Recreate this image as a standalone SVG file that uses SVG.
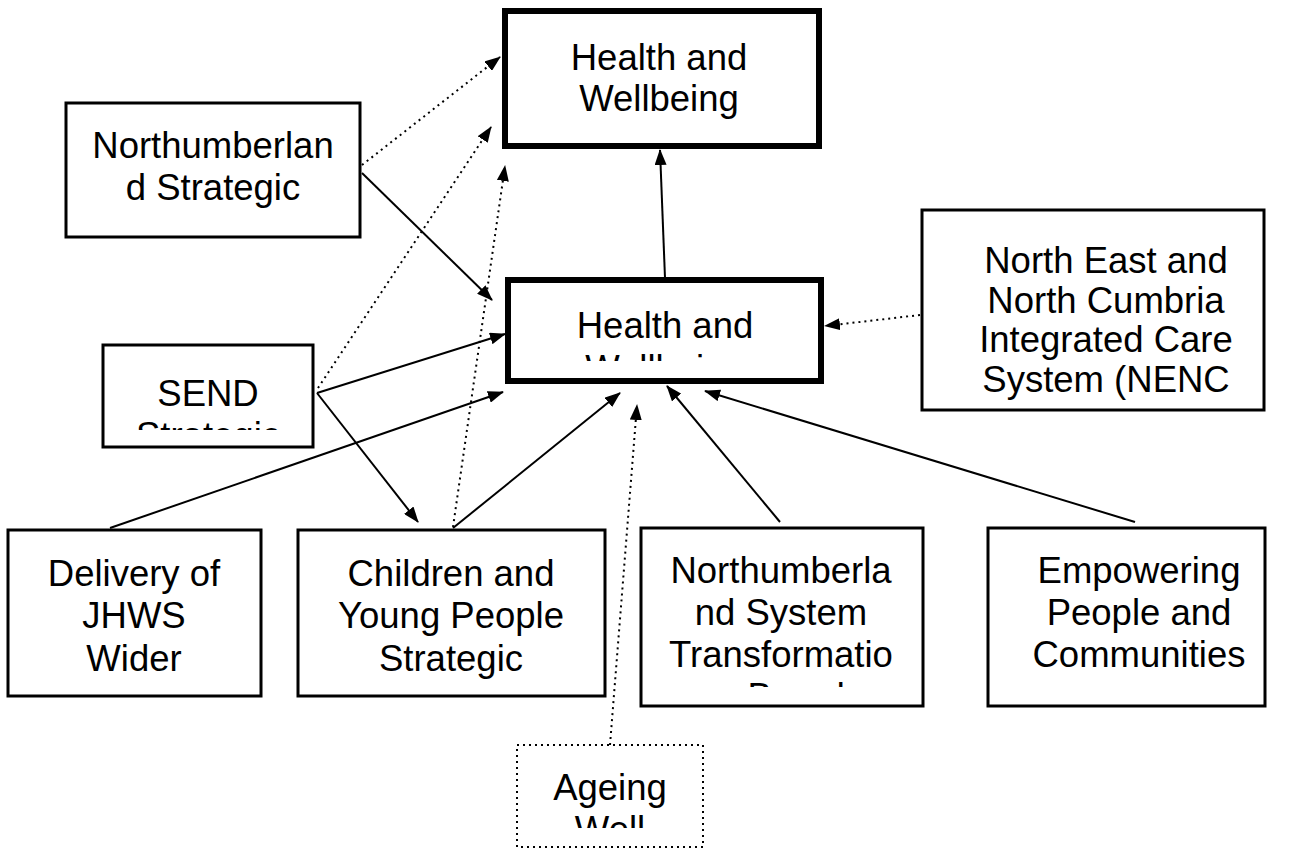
<svg xmlns="http://www.w3.org/2000/svg" width="1296" height="849" viewBox="0 0 1296 849">
<style>
.box{fill:#fff;stroke:#000;stroke-width:3}
.thick{fill:#fff;stroke:#000;stroke-width:6}
.dotbox{fill:#fff;stroke:#000;stroke-width:2;stroke-dasharray:2 4}
.t{font-family:"Liberation Sans",Arial,sans-serif;font-size:36.5px;fill:#000;text-anchor:middle}
.ln{stroke:#000;stroke-width:2;fill:none;marker-end:url(#ah)}
.dl{stroke:#000;stroke-width:2;fill:none;stroke-dasharray:2 4;marker-end:url(#ah)}
</style>
<defs>
<marker id="ah" markerUnits="userSpaceOnUse" markerWidth="16" markerHeight="12" refX="15" refY="6" orient="auto">
<path d="M0,0 L16,6 L0,12 z" fill="#000"/>
</marker>
<clipPath id="c-nsp"><rect x="66" y="103" width="294" height="119"/></clipPath>
<clipPath id="c-hwb"><rect x="508" y="280" width="313" height="81"/></clipPath>
<clipPath id="c-send"><rect x="103" y="345" width="210" height="85"/></clipPath>
<clipPath id="c-nst"><rect x="641" y="528" width="282" height="159"/></clipPath>
<clipPath id="c-age"><rect x="517" y="745" width="186" height="83"/></clipPath>
</defs>
<rect width="1296" height="849" fill="#fff"/>

<g id="connectors">
<line class="ln" x1="665" y1="278" x2="660" y2="150"/>
<line class="ln" x1="362" y1="173" x2="492" y2="300"/>
<line class="ln" x1="317" y1="393" x2="505" y2="334"/>
<line class="ln" x1="317" y1="393" x2="418" y2="522"/>
<line class="ln" x1="110" y1="528" x2="503" y2="392"/>
<line class="ln" x1="453" y1="528" x2="620" y2="393"/>
<line class="ln" x1="780" y1="522" x2="667" y2="386"/>
<line class="ln" x1="1135" y1="522" x2="705" y2="391"/>
<line class="dl" x1="362" y1="165" x2="500" y2="57"/>
<line class="dl" x1="318" y1="388" x2="491" y2="127"/>
<line class="dl" x1="453" y1="527" x2="505" y2="166"/>
<line class="dl" x1="610" y1="745" x2="637" y2="405"/>
<line class="dl" x1="920" y1="315" x2="825" y2="326"/>
</g>

<g id="hwb-top">
<rect class="thick" x="505" y="11" width="314" height="135"/>
<text class="t" x="659" y="70">Health and</text>
<text class="t" x="659" y="111">Wellbeing</text>
</g>

<g id="nsp">
<rect class="box" x="66" y="103" width="294" height="134"/>
<g clip-path="url(#c-nsp)">
<text class="t" x="213" y="158">Northumberlan</text>
<text class="t" x="213" y="200">d Strategic</text>
</g>
</g>

<g id="hwb-mid">
<rect class="thick" x="508" y="280" width="313" height="101"/>
<g clip-path="url(#c-hwb)">
<text class="t" x="665" y="338">Health and</text>
<text class="t" x="665" y="381">Wellbeing</text>
</g>
</g>

<g id="nenc">
<rect class="box" x="922" y="210" width="342" height="200"/>
<text class="t" x="1106" y="273">North East and</text>
<text class="t" x="1106" y="313">North Cumbria</text>
<text class="t" x="1106" y="352">Integrated Care</text>
<text class="t" x="1106" y="392">System (NENC</text>
</g>

<g id="send">
<rect class="box" x="103" y="345" width="210" height="102"/>
<g clip-path="url(#c-send)">
<text class="t" x="208" y="406">SEND</text>
<text class="t" x="208" y="448">Strategic</text>
</g>
</g>

<g id="delivery">
<rect class="box" x="8" y="530" width="253" height="166"/>
<text class="t" x="134" y="586">Delivery of</text>
<text class="t" x="134" y="628">JHWS</text>
<text class="t" x="134" y="671">Wider</text>
</g>

<g id="cyp">
<rect class="box" x="298" y="530" width="307" height="166"/>
<text class="t" x="451" y="586">Children and</text>
<text class="t" x="451" y="628">Young People</text>
<text class="t" x="451" y="671">Strategic</text>
</g>

<g id="nst">
<rect class="box" x="641" y="528" width="282" height="178"/>
<g clip-path="url(#c-nst)">
<text class="t" x="781" y="583">Northumberla</text>
<text class="t" x="781" y="625">nd System</text>
<text class="t" x="781" y="667">Transformatio</text>
<text class="t" x="781" y="709">n Board</text>
</g>
</g>

<g id="epc">
<rect class="box" x="988" y="528" width="277" height="178"/>
<text class="t" x="1139" y="583">Empowering</text>
<text class="t" x="1139" y="625">People and</text>
<text class="t" x="1139" y="667">Communities</text>
</g>

<g id="ageing">
<rect class="dotbox" x="517" y="745" width="186" height="102"/>
<g clip-path="url(#c-age)">
<text class="t" x="610" y="800">Ageing</text>
<text class="t" x="610" y="842">Well</text>
</g>
</g>
</svg>
